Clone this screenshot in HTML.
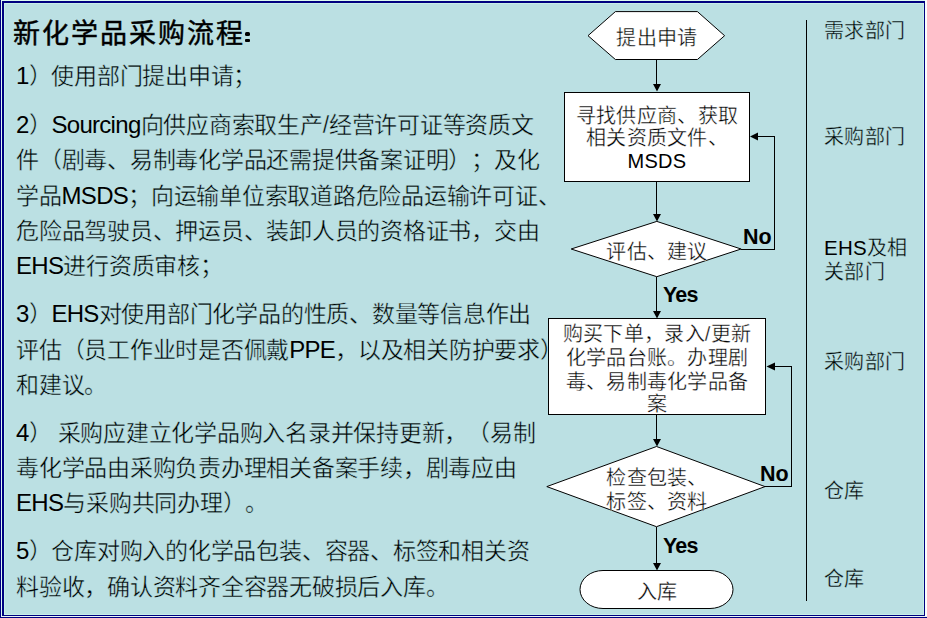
<!DOCTYPE html>
<html lang="zh-CN">
<head>
<meta charset="utf-8">
<style>
html,body{margin:0;padding:0;}
body{width:927px;height:618px;position:relative;overflow:hidden;background:#ffffff;font-family:"Liberation Sans",sans-serif;color:#000;text-spacing-trim:space-all;}
.abs{position:absolute;}
.bg{left:0;top:0;width:927px;height:618px;background:#BBE0E3;}
.t{position:absolute;left:16px;font-size:23px;letter-spacing:-0.24px;line-height:24px;white-space:nowrap;-webkit-text-stroke:0.4px #BBE0E3;}
.t .l{font-size:24px;letter-spacing:-0.7px;-webkit-text-stroke:0;}
.title{position:absolute;left:13px;top:19px;font-family:"Liberation Serif",serif;font-weight:normal;-webkit-text-stroke:0.45px #000;font-size:27px;letter-spacing:2px;line-height:30px;white-space:nowrap;}
.f{position:absolute;left:507px;width:300px;font-size:20px;line-height:20px;white-space:nowrap;text-align:center;letter-spacing:0.3px;-webkit-text-stroke:0.35px #fff;}
.f .l{-webkit-text-stroke:0;}
.lab{position:absolute;left:824px;font-size:20px;letter-spacing:0.3px;line-height:20px;white-space:nowrap;-webkit-text-stroke:0.35px #BBE0E3;}
.lab .l{-webkit-text-stroke:0;font-size:20.5px;}
.yn{position:absolute;font-weight:bold;font-size:21.5px;line-height:20px;white-space:nowrap;}
.ys{letter-spacing:-0.8px;}
svg{position:absolute;left:0;top:0;}
</style>
</head>
<body>
<div class="abs bg"></div>
<!-- frame -->
<div class="abs" style="left:0;top:0;width:1px;height:618px;background:#000080"></div>
<div class="abs" style="left:1px;top:0;width:1px;height:617px;background:#def8f0"></div>
<div class="abs" style="left:0;top:617px;width:927px;height:1px;background:#000080"></div>
<div class="abs" style="left:1px;top:616px;width:926px;height:1px;background:#eaf6f6"></div>
<div class="abs" style="left:925px;top:0;width:2px;height:616px;background:#fbfffe"></div>
<div class="abs" style="left:1px;top:0;width:924px;height:1px;background:#dcfaf0"></div>
<div class="abs" style="left:2px;top:1px;width:923px;height:615px;box-sizing:border-box;border-left:2px solid #000080;border-top:2px solid #000080;border-right:1px solid #000080;border-bottom:1px solid #000080;"></div>
<div class="abs" style="left:4px;top:3px;width:920px;height:612px;box-sizing:border-box;border:1px solid #c8efe8;"></div>

<div class="title">新化学品采购流程</div>
<div class="abs" style="left:245px;top:32px;width:4.5px;height:4px;background:#000;border-radius:1.5px"></div>
<div class="abs" style="left:245px;top:39px;width:4.5px;height:3.2px;background:#000;border-radius:1px"></div>

<div class="t" style="top:64px"><span class="l">1</span>）使用部门提出申请；</div>

<div class="t" style="top:113px"><span class="l">2</span>）<span class="l">Sourcing</span>向供应商索取生产/经营许可证等资质文</div>
<div class="t" style="top:148px">件（剧毒、易制毒化学品还需提供备案证明）；及化</div>
<div class="t" style="top:184px">学品<span class="l">MSDS</span>；向运输单位索取道路危险品运输许可证、</div>
<div class="t" style="top:219px">危险品驾驶员、押运员、装卸人员的资格证书，交由</div>
<div class="t" style="top:254px"><span class="l">EHS</span>进行资质审核；</div>

<div class="t" style="top:302px"><span class="l">3</span>）<span class="l">EHS</span>对使用部门化学品的性质、数量等信息作出</div>
<div class="t" style="top:338px">评估（员工作业时是否佩戴<span class="l">PPE</span>，以及相关防护要求）</div>
<div class="t" style="top:373px">和建议。</div>

<div class="t" style="top:421px"><span class="l">4</span>） 采购应建立化学品购入名录并保持更新，（易制</div>
<div class="t" style="top:456px">毒化学品由采购负责办理相关备案手续，剧毒应由</div>
<div class="t" style="top:491px"><span class="l">EHS</span>与采购共同办理）。</div>

<div class="t" style="top:539px"><span class="l">5</span>）仓库对购入的化学品包装、容器、标签和相关资</div>
<div class="t" style="top:575px">料验收，确认资料齐全容器无破损后入库。</div>

<svg width="927" height="618" viewBox="0 0 927 618">
  <g fill="#fff" stroke="#000" stroke-width="1">
    <polygon points="588,35.7 615.4,11.6 697.4,11.6 724.6,35.7 697.4,59.5 615.4,59.5"/>
    <rect x="564.5" y="92.5" width="185" height="89" shape-rendering="crispEdges"/>
    <polygon points="571.2,249 656.8,221.4 741.1,249 656.8,276.7"/>
    <rect x="548.5" y="318.5" width="217" height="96" shape-rendering="crispEdges"/>
    <polygon points="546.8,486.6 656.5,446.5 765,486.6 656.5,526.7"/>
    <rect x="580" y="570.5" width="153" height="38" rx="23" ry="19"/>
  </g>
  <g fill="none" stroke="#000" stroke-width="1" shape-rendering="crispEdges">
    <line x1="656.5" y1="60" x2="656.5" y2="85"/>
    <line x1="656.5" y1="182" x2="656.5" y2="215"/>
    <line x1="656.5" y1="277" x2="656.5" y2="312"/>
    <line x1="656.5" y1="415" x2="656.5" y2="440"/>
    <line x1="656.5" y1="527" x2="656.5" y2="564"/>
    <polyline points="741,249.5 774.5,249.5 774.5,136.5 758,136.5"/>
    <polyline points="765,486.5 791.5,486.5 791.5,366.5 775,366.5"/>
    <line x1="806.5" y1="20" x2="806.5" y2="601"/>
  </g>
  <g fill="#000" stroke="none">
    <polygon points="653,84 661,84 657,91.5"/>
    <polygon points="653,214 661,214 657,221.5"/>
    <polygon points="653,311 661,311 657,318.5"/>
    <polygon points="653,439 661,439 657,446.5"/>
    <polygon points="653,563 661,563 657,570.5"/>
    <polygon points="750,136.5 758,132.5 758,140.5"/>
    <polygon points="766.5,366.5 775,362.5 775,370.5"/>
  </g>
</svg>

<div class="f" style="top:28px">提出申请</div>
<div class="f" style="top:106px">寻找供应商、获取</div>
<div class="f" style="top:128px">相关资质文件、</div>
<div class="f" style="top:151px"><span class="l">MSDS</span></div>
<div class="f" style="top:242px">评估、建议</div>
<div class="f" style="top:324px">购买下单，录入/更新</div>
<div class="f" style="top:348px">化学品台账。办理剧</div>
<div class="f" style="top:372px">毒、易制毒化学品备</div>
<div class="f" style="top:394px">案</div>
<div class="f" style="top:468px">检查包装、</div>
<div class="f" style="top:492px">标签、资料</div>
<div class="f" style="top:582px">入库</div>

<div class="yn" style="left:743px;top:227px">No</div>
<div class="yn ys" style="left:663px;top:285px">Yes</div>
<div class="yn" style="left:760px;top:464px">No</div>
<div class="yn ys" style="left:663px;top:536px">Yes</div>

<div class="lab" style="top:21px">需求部门</div>
<div class="lab" style="top:127px">采购部门</div>
<div class="lab" style="top:238px"><span class="l">EHS</span>及相</div>
<div class="lab" style="top:262px">关部门</div>
<div class="lab" style="top:352px">采购部门</div>
<div class="lab" style="top:481px">仓库</div>
<div class="lab" style="top:569px">仓库</div>
</body>
</html>
